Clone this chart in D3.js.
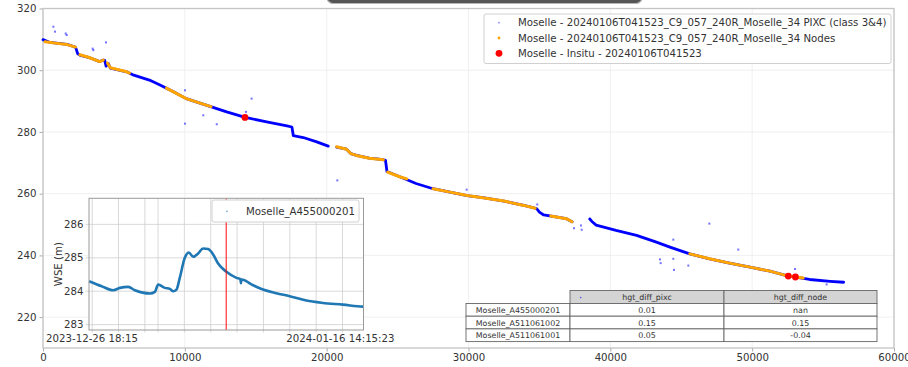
<!DOCTYPE html>
<html>
<head>
<meta charset="utf-8">
<script src="https://cdn.jsdelivr.net/npm/d3@7"></script>
<style>
  body { margin: 0; background: #fff; }
  svg text { font-family: "DejaVu Sans", sans-serif; fill: #333; }
</style>
</head>
<body>
<svg id="chart" width="908" height="367"></svg>
<script>
// ---- Water surface profile along the Moselle (distance in m, WSE in m) ----
// PIXC centreline; null marks a gap in coverage
const pixcProfile = [
  [0, 309.9], [500, 309.0], [1700, 308.4], [2150, 307.7], [2300, 307.4], [2450, 305.3],
  [2650, 304.8], [3200, 304.2], [4000, 302.8], [4250, 303.3], [4350, 303.2], [4450, 301.3],
  [4600, 302.2], [4750, 300.7], [5900, 299.5], [6400, 298.4], [7500, 296.8], [8250, 295.2],
  [9200, 293.0], [10100, 290.8], [11500, 288.7], [12950, 286.5], [14250, 284.7], [15770, 283.3],
  [17200, 282.0], [17550, 281.6], [17650, 278.8], [18350, 278.2], [19300, 276.8], [20110, 275.4],
  [20400, null],
  [20700, 275.1], [21400, 274.4], [21700, 273.0], [22100, 272.4], [23000, 271.5], [24000, 271.0],
  [24150, 270.8], [24250, 267.2], [25200, 265.4], [26300, 263.3], [27500, 261.6], [28700, 260.5],
  [29900, 259.4], [31000, 258.7], [32500, 257.6], [33900, 256.2], [34800, 255.2], [35000, 254.0],
  [35300, 253.1], [36900, 251.9], [37300, 250.9],
  [37900, null],
  [38550, 251.8], [38700, 251.0], [39000, 249.8], [40400, 248.1], [41850, 246.5], [43250, 244.3],
  [44200, 242.7], [45600, 240.5], [47000, 238.9], [48400, 237.5], [49850, 236.2], [51250, 234.9],
  [52550, 233.3], [53050, 233.0], [54050, 232.2], [55500, 231.6], [56450, 231.3]
];

// isolated PIXC returns away from the main profile
const pixcScatter = [
  [730, 314.1], [846, 312.5], [1670, 311.4], [1600, 311.9], [3550, 306.5], [3500, 307.0],
  [4440, 309.0], [10010, 293.5], [10010, 282.7], [11300, 285.4], [12250, 282.5], [14710, 290.8],
  [14310, 286.5], [20750, 264.3], [29870, 261.3], [34850, 256.5], [38560, 251.9],
  [37440, 248.8], [37930, 249.7], [37980, 248.3], [46980, 250.3], [49020, 241.9],
  [43500, 238.7], [43550, 237.5], [44440, 238.9], [44490, 235.3], [45500, 236.7],
  [44440, 245.1], [53020, 235.6], [55250, 230.6]
];

// river node heights, one list per continuous run of nodes
const nodeSegments = [
  [[150, 309.2], [1000, 308.7], [1700, 308.3], [2300, 307.5]],
  [[2600, 305.0], [3200, 304.2], [4000, 302.8], [4250, 303.3]],
  [[4550, 302.3], [4750, 300.8], [5900, 299.5], [6100, 299.1]],
  [[8700, 294.2], [9200, 293.0], [10100, 290.8], [11500, 288.7], [11850, 288.2]],
  [[20700, 275.2], [21400, 274.4], [21700, 273.0], [22100, 272.4], [23000, 271.5], [24000, 271.0]],
  [[24300, 267.0], [25200, 265.4], [25650, 264.8]],
  [[27500, 261.6], [28700, 260.5], [29900, 259.4], [31000, 258.7], [32500, 257.6], [33900, 256.2], [34700, 255.3]],
  [[35800, 252.8], [36900, 251.9], [37300, 250.9]],
  [[45600, 240.5], [47000, 238.9], [48400, 237.5], [49850, 236.2], [51250, 234.9], [52550, 233.3], [53600, 232.7]]
];

// in-situ gauge readings at overpass time
const insituPoints = [[14240, 284.7], [52550, 233.3], [53050, 233.0]];

const xTicks = [0, 10000, 20000, 30000, 40000, 50000, 60000];
const yTicks = [220, 240, 260, 280, 300, 320];

const legendLabels = [
  "Moselle - 20240106T041523_C9_057_240R_Moselle_34 PIXC (class 3&4)",
  "Moselle - 20240106T041523_C9_057_240R_Moselle_34 Nodes",
  "Moselle - Insitu - 20240106T041523"
];

// ---- Gauge time series (inset) ----
const gaugeName = "Moselle_A455000201";
const gaugeStart = "2023-12-26T18:15:00";
const gaugeEnd = "2024-01-16T14:15:23";
const overpassTime = "2024-01-06T04:15:23";
const gaugeTimes = [
  "2023-12-26T18:15", "2023-12-27T17:15", "2023-12-28T14:25", "2023-12-29T02:40",
  "2023-12-29T17:45", "2023-12-30T05:45", "2023-12-31T09:10", "2023-12-31T18:15",
  "2024-01-01T00:15", "2024-01-01T12:30", "2024-01-01T21:35", "2024-01-02T03:35",
  "2024-01-02T09:35", "2024-01-02T15:35", "2024-01-03T00:45", "2024-01-03T08:10",
  "2024-01-03T15:50", "2024-01-04T01:00", "2024-01-04T10:05", "2024-01-04T19:15",
  "2024-01-05T04:20", "2024-01-05T13:25", "2024-01-06T04:35", "2024-01-06T22:50",
  "2024-01-07T06:00", "2024-01-07T07:00", "2024-01-07T08:00", "2024-01-08T05:05",
  "2024-01-08T23:05", "2024-01-09T23:30", "2024-01-10T23:45", "2024-01-12T06:00",
  "2024-01-13T12:15", "2024-01-15T00:45", "2024-01-16T12:55", "2024-01-16T14:15"
];
const gaugeWse = [
  284.30, 284.15, 284.03, 284.10,
  284.13, 284.03, 283.93, 283.98,
  284.20, 284.10, 284.07, 284.00,
  284.05, 284.40, 285.00, 285.16,
  285.03, 285.13, 285.28, 285.26,
  285.10, 284.83, 284.58, 284.40,
  284.36, 284.24, 284.35, 284.18,
  284.05, 283.94, 283.85, 283.72,
  283.65, 283.60, 283.54, 283.54
];
const insetYTicks = [283, 284, 285, 286];
const insetGridDates = [
  "2023-12-27", "2023-12-29", "2023-12-31", "2024-01-01", "2024-01-03", "2024-01-05",
  "2024-01-07", "2024-01-09", "2024-01-11", "2024-01-13", "2024-01-15"
];
const insetEdgeLabels = ["2023-12-26 18:15", "2024-01-16 14:15:23"];

// ---- Height-difference table ----
const tableRows = ["Moselle_A455000201", "Moselle_A511061002", "Moselle_A511061001"];
const tableCols = ["hgt_diff_pixc", "hgt_diff_node"];
const hgtDiffPixc = ["0.01", "0.15", "0.05"];
const hgtDiffNode = ["nan", "0.15", "-0.04"];

// ================= drawing =================
const svg = d3.select("#chart");
const FS = 10.2;

// window chrome tab along the top edge
svg.append("rect")
  .attr("x", 327).attr("y", -10).attr("width", 315).attr("height", 13.5)
  .attr("rx", 6).attr("fill", "#555").attr("stroke", "#b5b5b5").attr("stroke-width", 1.2);

const box = { left: 43, right: 894, top: 8.5, bottom: 348 };
const x = d3.scaleLinear().domain([0, 60000]).range([box.left, box.right]);
const y = d3.scaleLinear().domain([210, 320]).range([box.bottom, box.top]);

// grid
const grid = svg.append("g");
grid.selectAll(".gx").data(xTicks).join("line")
  .attr("x1", d => x(d)).attr("x2", d => x(d))
  .attr("y1", box.top).attr("y2", box.bottom)
  .attr("stroke", "#ececec").attr("stroke-width", 0.8);
grid.selectAll(".gy").data(yTicks).join("line")
  .attr("x1", box.left).attr("x2", box.right)
  .attr("y1", d => y(d)).attr("y2", d => y(d))
  .attr("stroke", "#ececec").attr("stroke-width", 0.8);

// axes
const xAxis = svg.append("g").attr("transform", `translate(0,${box.bottom})`)
  .call(d3.axisBottom(x).tickValues(xTicks).tickFormat(d3.format("d")).tickSize(3.5).tickPadding(2.5));
const yAxis = svg.append("g").attr("transform", `translate(${box.left},0)`)
  .call(d3.axisLeft(y).tickValues(yTicks).tickFormat(d3.format("d")).tickSize(3.5).tickPadding(3));
[xAxis, yAxis].forEach(g => {
  g.select(".domain").remove();
  g.selectAll(".tick line").attr("stroke", "#aaa");
  g.selectAll(".tick text").attr("font-size", FS).attr("fill", "#333")
    .style("font-family", "DejaVu Sans");
});

// frame
svg.append("rect")
  .attr("x", box.left).attr("y", box.top)
  .attr("width", box.right - box.left).attr("height", box.bottom - box.top)
  .attr("fill", "none").attr("stroke", "#c4c4c4").attr("stroke-width", 1.3);

// PIXC profile
const profileLine = d3.line()
  .defined(d => d[1] !== null)
  .x(d => x(d[0])).y(d => y(d[1]));
svg.append("path").datum(pixcProfile)
  .attr("d", profileLine)
  .attr("fill", "none").attr("stroke", "#0000ff").attr("stroke-width", 2.8)
  .attr("stroke-linejoin", "round").attr("stroke-linecap", "round");

svg.append("g").selectAll("rect").data(pixcScatter).join("rect")
  .attr("x", d => x(d[0]) - 1).attr("y", d => y(d[1]) - 1)
  .attr("width", 2).attr("height", 2)
  .attr("fill", "#0000ff").attr("opacity", 0.55);

// nodes
svg.append("g").selectAll("path").data(nodeSegments).join("path")
  .attr("d", d3.line().x(d => x(d[0])).y(d => y(d[1])))
  .attr("fill", "none").attr("stroke", "#ffa500").attr("stroke-width", 3)
  .attr("stroke-linejoin", "round").attr("stroke-linecap", "round");

// in-situ
svg.append("g").selectAll("circle").data(insituPoints).join("circle")
  .attr("cx", d => x(d[0])).attr("cy", d => y(d[1])).attr("r", 3.4)
  .attr("fill", "#ff0000");

// legend
const lg = svg.append("g");
lg.append("rect").attr("x", 484).attr("y", 14).attr("width", 407).attr("height", 49.5)
  .attr("rx", 2).attr("fill", "#fff").attr("fill-opacity", 0.85)
  .attr("stroke", "#d0d0d0").attr("stroke-width", 1);
const legendMarks = [
  { color: "#0000ff", r: 0.9, op: 0.45 },
  { color: "#ffa500", r: 1.4, op: 1 },
  { color: "#ff0000", r: 3.4, op: 1 }
];
legendLabels.forEach((t, i) => {
  const cy = 22.7 + i * 15.3;
  lg.append("circle").attr("cx", 499).attr("cy", cy).attr("r", legendMarks[i].r)
    .attr("fill", legendMarks[i].color).attr("opacity", legendMarks[i].op);
  lg.append("text").attr("x", 518).attr("y", cy + 3.6).attr("font-size", FS).text(t);
});

// ================= inset: gauge time series =================
const ib = { left: 89, right: 363.5, top: 198.3, bottom: 330 };
const parse = d3.isoParse;
const tx = d3.scaleTime().domain([parse(gaugeStart), parse(gaugeEnd)]).range([ib.left, ib.right]);
const ty = d3.scaleLinear().domain([282.84, 286.78]).range([ib.bottom, ib.top]);

const inset = svg.append("g");
inset.append("rect").attr("x", ib.left).attr("y", ib.top)
  .attr("width", ib.right - ib.left).attr("height", ib.bottom - ib.top)
  .attr("fill", "#fff");

inset.selectAll(".igx").data(insetGridDates).join("line")
  .attr("x1", d => tx(parse(d))).attr("x2", d => tx(parse(d)))
  .attr("y1", ib.top).attr("y2", ib.bottom + 2.5)
  .attr("stroke", "#cfcfcf").attr("stroke-width", 0.8);
inset.selectAll(".igy").data(insetYTicks).join("line")
  .attr("x1", ib.left - 3.5).attr("x2", ib.right)
  .attr("y1", d => ty(d)).attr("y2", d => ty(d))
  .attr("stroke", "#cfcfcf").attr("stroke-width", 0.8);
inset.selectAll(".ity").data(insetYTicks).join("text")
  .attr("x", ib.left - 5.5).attr("y", d => ty(d) + 3.7)
  .attr("text-anchor", "end").attr("font-size", FS).text(d => d);

inset.append("text")
  .attr("transform", `translate(61.5,${(ib.top + ib.bottom) / 2}) rotate(-90)`)
  .attr("text-anchor", "middle").attr("font-size", FS).text("WSE (m)");

// edge date labels
inset.append("text").attr("x", tx(parse(gaugeStart)) + 3).attr("y", 342)
  .attr("text-anchor", "middle").attr("font-size", FS).text(insetEdgeLabels[0]);
inset.append("text").attr("x", tx(parse(gaugeEnd)) + 31).attr("y", 342)
  .attr("text-anchor", "end").attr("font-size", FS).text(insetEdgeLabels[1]);

// gauge series
const gaugeData = gaugeTimes.map((t, i) => [parse(t), gaugeWse[i]]);
inset.append("path").datum(gaugeData)
  .attr("d", d3.line().x(d => tx(d[0])).y(d => ty(d[1])).curve(d3.curveMonotoneX))
  .attr("fill", "none").attr("stroke", "#1f77b4").attr("stroke-width", 2.6)
  .attr("stroke-linejoin", "round");

// overpass time marker
inset.append("line")
  .attr("x1", tx(parse(overpassTime))).attr("x2", tx(parse(overpassTime)))
  .attr("y1", ib.top).attr("y2", ib.bottom)
  .attr("stroke", "#ff0000").attr("stroke-opacity", 0.75).attr("stroke-width", 1.3);

// inset legend
inset.append("rect").attr("x", 212).attr("y", 200).attr("width", 147).attr("height", 22)
  .attr("rx", 2).attr("fill", "#fff").attr("stroke", "#d0d0d0").attr("stroke-width", 1);
inset.append("circle").attr("cx", 227).attr("cy", 211.3).attr("r", 0.9)
  .attr("fill", "#1f77b4").attr("opacity", 0.6);
inset.append("text").attr("x", 246).attr("y", 215).attr("font-size", FS).text(gaugeName);

inset.append("rect").attr("x", ib.left).attr("y", ib.top)
  .attr("width", ib.right - ib.left).attr("height", ib.bottom - ib.top)
  .attr("fill", "none").attr("stroke", "#9a9a9a").attr("stroke-width", 1);

// ================= table =================
const colX = [466, 570, 724, 877];
const rowY = [290.5, 303.5, 316.2, 328.9, 341.6];
const tbl = svg.append("g");
const TFS = 7.9;
tableCols.forEach((c, j) => {
  tbl.append("rect").attr("x", colX[j + 1]).attr("y", rowY[0])
    .attr("width", colX[j + 2] - colX[j + 1]).attr("height", rowY[1] - rowY[0])
    .attr("fill", "#d4d4d4").attr("stroke", "#666").attr("stroke-width", 0.9);
  tbl.append("text").attr("x", (colX[j + 1] + colX[j + 2]) / 2).attr("y", rowY[0] + 9.5)
    .attr("text-anchor", "middle").attr("font-size", TFS).text(c);
});
tbl.append("circle").attr("cx", 580.7).attr("cy", 297.6).attr("r", 0.8)
  .attr("fill", "#0000ff").attr("opacity", 0.6);
tableRows.forEach((r, i) => {
  const vals = [r, hgtDiffPixc[i], hgtDiffNode[i]];
  vals.forEach((v, j) => {
    tbl.append("rect").attr("x", colX[j]).attr("y", rowY[i + 1])
      .attr("width", colX[j + 1] - colX[j]).attr("height", rowY[i + 2] - rowY[i + 1])
      .attr("fill", "#fff").attr("stroke", "#666").attr("stroke-width", 0.9);
    tbl.append("text").attr("x", (colX[j] + colX[j + 1]) / 2).attr("y", rowY[i + 1] + 9.3)
      .attr("text-anchor", "middle").attr("font-size", TFS).text(v);
  });
});
</script>
</body>
</html>
